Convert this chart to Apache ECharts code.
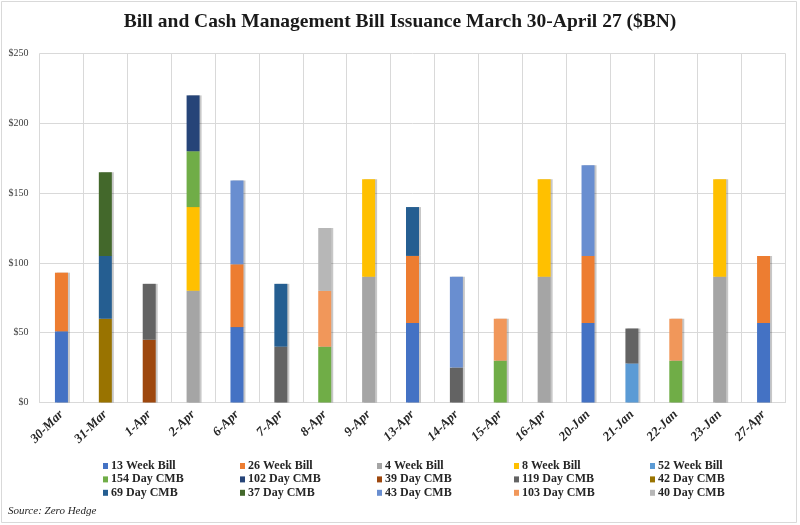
<!DOCTYPE html>
<html>
<head>
<meta charset="utf-8">
<script src="https://cdn.jsdelivr.net/npm/echarts@6/dist/echarts.min.js"></script>
<style>
html,body{margin:0;padding:0;background:#fff;}
#chart{width:800px;height:525px;}
</style>
</head>
<body>
<div id="chart"></div>
<script>
var categories = ['30-Mar','31-Mar','1-Apr','2-Apr','6-Apr','7-Apr','8-Apr','9-Apr','13-Apr','14-Apr','15-Apr','16-Apr','20-Jan','21-Jan','22-Jan','23-Jan','27-Apr'];
var yTicks = [0, 50, 100, 150, 200, 250];

var week13 = [51, null, null, null, 54, null, null, null, 57, null, null, null, 57, null, null, null, 57];
var week26 = [42, null, null, null, 45, null, null, null, 48, null, null, null, 48, null, null, null, 48];
var week4  = [null, null, null, 80, null, null, null, 90, null, null, null, 90, null, null, null, 90, null];
var week8  = [null, null, null, 60, null, null, null, 70, null, null, null, 70, null, null, null, 70, null];
var week52 = [null, null, null, null, null, null, null, null, null, null, null, null, null, 28, null, null, null];
var cmb154 = [null, null, null, 40, null, null, 40, null, null, null, 30, null, null, null, 30, null, null];
var cmb102 = [null, null, null, 40, null, null, null, null, null, null, null, null, null, null, null, null, null];
var cmb39  = [null, null, 45, null, null, null, null, null, null, null, null, null, null, null, null, null, null];
var cmb119 = [null, null, 40, null, null, 40, null, null, null, 25, null, null, null, 25, null, null, null];
var cmb42  = [null, 60, null, null, null, null, null, null, null, null, null, null, null, null, null, null, null];
var cmb69  = [null, 45, null, null, null, 45, null, null, 35, null, null, null, null, null, null, null, null];
var cmb37  = [null, 60, null, null, null, null, null, null, null, null, null, null, null, null, null, null, null];
var cmb43  = [null, null, null, null, 60, null, null, null, null, 65, null, null, 65, null, null, null, null];
var cmb103 = [null, null, null, null, null, null, 40, null, null, null, 30, null, null, null, 30, null, null];
var cmb40  = [null, null, null, null, null, null, 45, null, null, null, null, null, null, null, null, null, null];

var seriesDefs = [
  ['13 Week Bill', week13, '#4472C4'],
  ['26 Week Bill', week26, '#ED7D31'],
  ['4 Week Bill', week4, '#A5A5A5'],
  ['8 Week Bill', week8, '#FFC000'],
  ['52 Week Bill', week52, '#5B9BD5'],
  ['154 Day CMB', cmb154, '#70AD47'],
  ['102 Day CMB', cmb102, '#264478'],
  ['39 Day CMB', cmb39, '#9E480E'],
  ['119 Day CMB', cmb119, '#636363'],
  ['42 Day CMB', cmb42, '#997300'],
  ['69 Day CMB', cmb69, '#255E91'],
  ['37 Day CMB', cmb37, '#43682B'],
  ['43 Day CMB', cmb43, '#698ED0'],
  ['103 Day CMB', cmb103, '#F1975A'],
  ['40 Day CMB', cmb40, '#B7B7B7']
];

var serif = '"Liberation Serif", "DejaVu Serif", serif';

var series = seriesDefs.map(function (d) {
  return {
    name: d[0], type: 'bar', stack: 'total', data: d[1], barWidth: 13,
    itemStyle: { color: d[2], shadowColor: 'rgba(0,0,0,0.22)', shadowBlur: 0, shadowOffsetX: 2, shadowOffsetY: 0 },
    emphasis: { disabled: true }
  };
});

// legend: 5 columns x 3 rows, row-major order
var colLeft = [103, 240, 377, 514, 650];
var legends = colLeft.map(function (x, c) {
  var names = [];
  for (var r = 0; r < 3; r++) names.push(seriesDefs[r * 5 + c][0]);
  return {
    data: names, orient: 'vertical', left: x, top: 460, itemGap: 1.4,
    itemWidth: 5, itemHeight: 6, icon: 'rect', selectedMode: false,
    padding: 0,
    textStyle: { fontFamily: serif, fontWeight: 'bold', fontSize: 12, color: '#262626', lineHeight: 12, padding: [0,0,0,-2] }
  };
});

var chart = echarts.init(document.getElementById('chart'), null, { renderer: 'canvas' });
chart.setOption({
  animation: false,
  backgroundColor: '#fff',
  title: {
    text: 'Bill and Cash Management Bill Issuance March 30-April 27 ($BN)',
    left: 'center', top: 7,
    textStyle: { fontFamily: serif, fontWeight: 'bold', fontSize: 19.5, color: '#1a1a1a' }
  },
  legend: legends,
  grid: { left: 39.5, right: 14.5, top: 53.5, bottom: 122.5, containLabel: false },
  xAxis: {
    type: 'category', data: categories, boundaryGap: true,
    axisLine: { show: true, lineStyle: { color: '#d9d9d9' } },
    axisTick: { show: false },
    splitLine: { show: true, lineStyle: { color: '#d9d9d9' } },
    axisLabel: { rotate: 45, interval: 0, margin: 10, fontFamily: serif, fontWeight: 'bold', fontStyle: 'italic', fontSize: 13, color: '#262626' }
  },
  yAxis: {
    type: 'value', min: yTicks[0], max: yTicks[yTicks.length - 1], interval: 50,
    axisLine: { show: false }, axisTick: { show: false },
    splitLine: { lineStyle: { color: '#d9d9d9' } },
    axisLabel: { formatter: function (v) { return '$' + v; }, fontFamily: serif, fontSize: 10, color: '#404040', margin: 11 }
  },
  graphic: [
    { type: 'rect', shape: { x: 1.5, y: 1.5, width: 795, height: 521 }, style: { fill: null, stroke: '#d9d9d9', lineWidth: 1 }, silent: true },
    { type: 'text', left: 8, top: 506, style: { text: 'Source: Zero Hedge', fontFamily: serif, fontStyle: 'italic', fontSize: 11, fill: '#262626' } }
  ],
  series: series
});
</script>
</body>
</html>
